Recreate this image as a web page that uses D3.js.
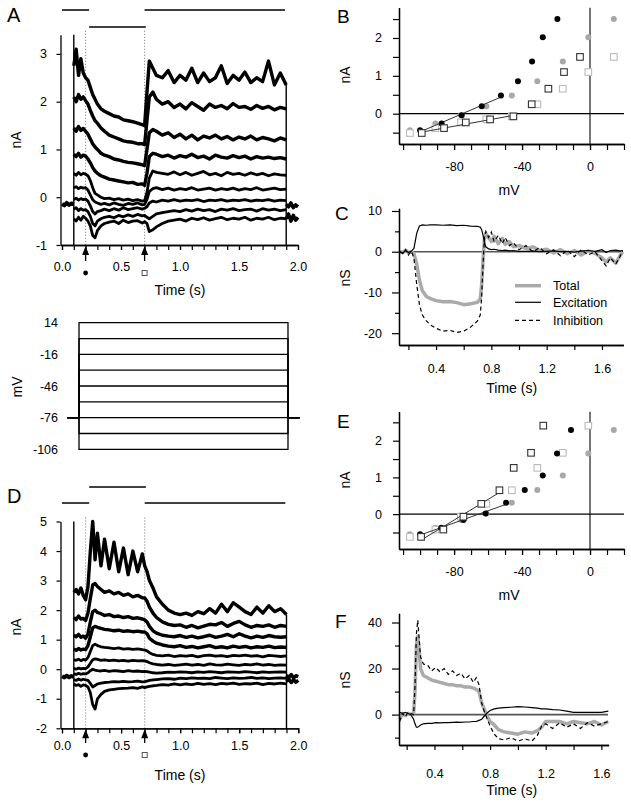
<!DOCTYPE html>
<html>
<head>
<meta charset="utf-8">
<script src="https://cdn.jsdelivr.net/npm/d3@7"></script>
<style>
body { margin: 0; background: #fff; }
</style>
</head>
<body>
<svg id="fig" width="631" height="806"></svg>
<script>
// ---- data ----
const cmdVoltages = [-106, -91, -76, -61, -46, -31, -16, -1, 14];

const traceTimes = [0.10,0.12,0.14,0.16,0.18,0.20,0.22,0.24,0.26,0.28,0.30,0.33,0.36,0.40,0.44,0.48,0.52,0.56,0.60,0.64,0.68,0.70,0.72,0.74,0.77,0.80,0.85,0.90,0.95,1.00,1.05,1.10,1.15,1.20,1.25,1.30,1.35,1.40,1.45,1.50,1.55,1.60,1.65,1.70,1.75,1.80,1.85,1.90];

// panel A currents (nA), one list per holding step, -106 mV first
const tracesA = [
  [-0.45,-0.5,-0.42,-0.48,-0.4,-0.44, -0.5,-0.6,-0.8,-0.85,-0.7, -0.6,-0.55,-0.52,-0.5,-0.55, -0.48,-0.53,-0.5,-0.49,-0.54, -0.51,-0.55,-0.72,-0.68,-0.62, -0.55,-0.5,-0.48,-0.46,-0.5, -0.44,-0.47,-0.43,-0.48,-0.45, -0.42,-0.47,-0.44,-0.46,-0.42, -0.48,-0.44,-0.46,-0.42,-0.47, -0.44,-0.45],
  [-0.25,-0.22,-0.28,-0.24,-0.27,-0.26, -0.3,-0.4,-0.55,-0.6,-0.5, -0.45,-0.42,-0.4,-0.43,-0.38, -0.41,-0.37,-0.4,-0.36,-0.39, -0.38,-0.42,-0.45,-0.4,-0.35, -0.32,-0.3,-0.28,-0.3,-0.26, -0.29,-0.25,-0.28,-0.26,-0.3, -0.25,-0.27,-0.24,-0.28,-0.26, -0.25,-0.29,-0.24,-0.27,-0.25, -0.28,-0.26],
  [-0.05,-0.02,-0.06,-0.03,-0.05,-0.04, -0.08,-0.18,-0.3,-0.35,-0.3, -0.28,-0.25,-0.28,-0.24,-0.27, -0.22,-0.26,-0.24,-0.22,-0.25, -0.23,-0.2,-0.12,-0.08,-0.1, -0.06,-0.08,-0.05,-0.08,-0.06, -0.07,-0.05,-0.09,-0.06,-0.07, -0.05,-0.08,-0.06,-0.07,-0.05, -0.08,-0.06,-0.07,-0.05,-0.08, -0.06,-0.07],
  [0.2,0.22,0.18,0.21,0.19,0.2, 0.15,0.05,-0.05,-0.1,-0.12, -0.15,-0.13,-0.16,-0.12,-0.15, -0.17,-0.13,-0.15,-0.12,-0.16, -0.15,-0.05,0.12,0.18,0.2, 0.16,0.19,0.15,0.18,0.16, 0.2,0.15,0.17,0.19,0.15, 0.18,0.16,0.19,0.15,0.18, 0.16,0.2,0.15,0.17,0.19, 0.16,0.17],
  [0.5,0.46,0.52,0.47,0.5,0.48, 0.45,0.35,0.2,0.08,0.05, 0.0,-0.03,-0.02,-0.05,-0.03, -0.06,-0.04,-0.07,-0.05,-0.08, -0.07,0.1,0.4,0.55,0.52, 0.5,0.48,0.53,0.47,0.52, 0.46,0.5,0.54,0.47,0.5, 0.45,0.52,0.48,0.5,0.46, 0.51,0.47,0.5,0.45,0.49, 0.47,0.46],
  [0.9,0.85,0.92,0.84,0.88,0.86, 0.8,0.72,0.62,0.55,0.5, 0.45,0.42,0.38,0.36,0.34, 0.32,0.3,0.31,0.27,0.28, 0.25,0.5,0.85,0.92,0.9, 0.85,0.88,0.82,0.87,0.84, 0.9,0.83,0.86,0.8,0.88, 0.84,0.82,0.87,0.83,0.86, 0.8,0.85,0.82,0.84,0.81, 0.83,0.8],
  [1.45,1.38,1.48,1.4,1.44,1.38, 1.32,1.22,1.12,1.05,1.0, 0.92,0.88,0.85,0.8,0.78, 0.75,0.73,0.72,0.7,0.68, 0.66,1.0,1.35,1.42,1.38, 1.3,1.35,1.25,1.32,1.22, 1.3,1.2,1.28,1.24,1.3, 1.22,1.27,1.2,1.26,1.22, 1.28,1.2,1.25,1.22,1.18, 1.24,1.2],
  [2.1,2.0,2.15,2.05,2.1,2.02, 1.95,1.82,1.7,1.6,1.55, 1.45,1.38,1.3,1.26,1.22, 1.18,1.16,1.15,1.12,1.12, 1.1,1.6,2.1,2.2,2.05, 1.95,2.0,1.88,1.95,1.85, 1.98,1.9,1.82,1.95,1.88, 1.92,1.85,1.96,1.88,1.9, 1.84,1.92,1.86,1.9,1.83, 1.88,1.85],
  [2.75,3.1,2.55,2.9,2.6,2.5, 2.45,2.3,2.15,2.05,1.95, 1.85,1.8,1.75,1.7,1.68, 1.62,1.6,1.58,1.55,1.52, 1.5,2.2,2.85,2.7,2.55, 2.5,2.65,2.4,2.55,2.45, 2.7,2.4,2.6,2.42,2.5, 2.75,2.38,2.55,2.45,2.62, 2.4,2.5,2.42,2.85,2.35, 2.6,2.35]
];

// panel D currents (nA)
const tracesD = [
  [-0.5,-0.55,-0.52,-0.58,-0.53,-0.55, -0.6,-0.8,-1.2,-1.35,-1.0, -0.85,-0.75,-0.7,-0.68,-0.66, -0.65,-0.64,-0.62,-0.65,-0.6, -0.62,-0.6,-0.58,-0.56,-0.55, -0.52,-0.54,-0.5,-0.53,-0.5, -0.52,-0.48,-0.51,-0.49,-0.52, -0.48,-0.5,-0.47,-0.51,-0.49, -0.5,-0.47,-0.52,-0.48,-0.5, -0.47,-0.5],
  [-0.35,-0.38,-0.33,-0.37,-0.34,-0.36, -0.38,-0.48,-0.6,-0.55,-0.5, -0.47,-0.45,-0.44,-0.42,-0.43, -0.41,-0.43,-0.42,-0.4,-0.43, -0.42,-0.4,-0.38,-0.36,-0.35, -0.33,-0.32,-0.34,-0.3,-0.32, -0.29,-0.31,-0.3,-0.32,-0.28, -0.3,-0.32,-0.29,-0.31,-0.3, -0.28,-0.31,-0.29,-0.32,-0.3, -0.29,-0.31],
  [-0.15,-0.18,-0.14,-0.17,-0.15,-0.16, -0.12,-0.05,0.0,-0.03,-0.05, -0.06,-0.04,-0.07,-0.05,-0.06, -0.08,-0.05,-0.07,-0.06,-0.08, -0.07,-0.08,-0.1,-0.12,-0.13, -0.12,-0.1,-0.11,-0.09,-0.1, -0.12,-0.09,-0.11,-0.08,-0.1, -0.12,-0.09,-0.1,-0.11,-0.08, -0.1,-0.12,-0.09,-0.11,-0.1, -0.09,-0.1],
  [0.03,0.0,0.04,0.01,0.03,0.02, 0.08,0.2,0.32,0.35,0.33, 0.3,0.32,0.29,0.31,0.28, 0.3,0.27,0.3,0.28,0.29, 0.28,0.26,0.22,0.18,0.16, 0.14,0.16,0.13,0.15,0.17, 0.14,0.16,0.13,0.18,0.15, 0.14,0.17,0.15,0.13,0.16, 0.15,0.18,0.14,0.16,0.13, 0.15,0.14],
  [0.32,0.3,0.34,0.29,0.33,0.31, 0.4,0.6,0.8,0.85,0.8, 0.76,0.74,0.72,0.7,0.72, 0.68,0.7,0.67,0.69,0.66, 0.65,0.62,0.56,0.5,0.47, 0.45,0.48,0.43,0.46,0.44, 0.47,0.42,0.46,0.48,0.44, 0.46,0.43,0.47,0.45,0.48, 0.44,0.46,0.42,0.47,0.45, 0.43,0.45],
  [0.68,0.64,0.7,0.65,0.68,0.66, 0.8,1.1,1.4,1.45,1.42, 1.38,1.35,1.33,1.3,1.32, 1.28,1.3,1.27,1.29,1.26, 1.26,1.2,1.05,0.95,0.88, 0.82,0.78,0.76,0.8,0.74, 0.77,0.72,0.76,0.8,0.73, 0.76,0.72,0.78,0.74,0.77, 0.72,0.76,0.74,0.78,0.73, 0.75,0.74],
  [1.15,1.1,1.18,1.08,1.12,1.05, 1.2,1.6,1.95,2.0,1.92, 1.88,1.82,1.85,1.78,1.8, 1.75,1.78,1.72,1.74,1.7, 1.67,1.6,1.45,1.3,1.22, 1.15,1.12,1.1,1.14,1.08, 1.12,1.06,1.1,1.15,1.08, 1.12,1.18,1.1,1.2,1.12, 1.06,1.12,1.08,1.14,1.1, 1.08,1.1],
  [1.75,1.68,1.8,1.7,1.72,1.65, 1.9,2.4,2.85,2.9,2.8, 2.7,2.6,2.65,2.55,2.6, 2.5,2.55,2.45,2.5,2.42, 2.41,2.3,2.1,1.9,1.75, 1.6,1.52,1.48,1.5,1.42, 1.48,1.4,1.46,1.52,1.5, 1.58,1.45,1.55,1.62,1.5, 1.42,1.48,1.45,1.5,1.42, 1.48,1.45],
  [2.6,2.7,2.55,2.75,2.5,2.35, 2.8,4.0,5.0,3.7,4.6, 3.5,4.4,3.4,4.3,3.3, 4.1,3.2,4.0,3.3,3.9, 3.5,3.3,3.0,2.75,2.45, 2.2,2.0,1.9,1.85,1.9, 1.82,1.95,1.88,2.05,1.9, 2.2,1.95,2.25,2.1,1.95, 1.85,2.1,1.9,2.15,1.95, 2.05,1.85]
];

const baseTimesPre = [0, 0.02, 0.04, 0.06, 0.08, 0.10];
const baseTimesPost = [1.90, 1.92, 1.94, 1.96, 1.98, 2.00];
const basePreA = [-0.14, -0.17, -0.12, -0.16, -0.13, -0.15];
const basePostA = [[-0.15, -0.2, -0.12, -0.22, -0.16, -0.2], [-0.45, -0.35, -0.5, -0.38, -0.48, -0.42]];
const basePreD = [-0.24, -0.28, -0.22, -0.27, -0.23, -0.26];
const basePostD = [[-0.2, -0.28, -0.18, -0.3, -0.22, -0.25], [-0.42, -0.34, -0.45, -0.36, -0.44, -0.38]];

// step transients: [time, low nA, high nA]
const transientsA = [[0.1, -1, 3.4], [1.9, -1, 2.4]];
const transientsD = [[0.1, -2, 5], [1.9, -2, 1.85]];

// stimulus bars: [start s, end s, row]
const stimBars = [[0, 0.23, 0], [0.23, 0.71, 1], [0.7, 1.89, 0]];
const markTimes = [0.2, 0.7];

// I-V points (B and E): corrected voltage and current at 0.2 s (dots) and 0.7 s (squares)
const bDotV = [-100, -87.3, -75.5, -63.7, -52.4, -42.4, -34.1, -27.8, -19.2];
const bDotI = [-0.44, -0.26, -0.04, 0.20, 0.48, 0.86, 1.38, 2.02, 2.50];
const bSqV = [-99, -85.9, -73.1, -58.8, -45.1, -34.3, -24.5, -15.3, -5.9];
const bSqI = [-0.51, -0.38, -0.23, -0.15, -0.07, 0.25, 0.66, 1.10, 1.50];
const eDotV = [-100, -87.5, -74.5, -61.4, -49.4, -38.4, -27.8, -19.4, -11.2];
const eDotI = [-0.55, -0.37, -0.16, 0.02, 0.31, 0.66, 1.05, 1.65, 2.29];
const eSqV = [-99.4, -86.3, -74.5, -64, -53.3, -44.9, -34.7, -27.5, -20];
const eSqI = [-0.62, -0.42, -0.07, 0.28, 0.65, 1.26, 1.67, 2.41, 3.5];

// conductances (nS)
const cTimes = [0.14,0.16,0.18,0.20,0.22,0.24,0.26,0.28,0.30,0.33,0.36,0.40,0.45,0.50,0.55,0.60,0.65,0.70,0.72,0.73,0.74,0.75,0.76,0.78,0.80,0.82,0.85,0.88,0.90,0.93,0.96,1.00,1.05,1.10,1.15,1.20,1.25,1.30,1.35,1.40,1.45,1.50,1.55,1.60,1.63,1.66,1.70,1.73,1.75];
const cTotal = [0,-0.2,0.4,-0.3,0,-0.5,-3,-7,-9.5, -11,-11.5,-12,-12.3,-12.2, -12.5,-13,-12.8,-12.4,-11.5, -8,-2,3,4.5,3.5, 2.5,3.8,2,3.3,1.8, 2.5,1.2,1.5,0.8,1.2, 0.3,0.6,-0.3,0.5,-0.5, 0.3,-0.8,0.2,-0.4,-1.5, -2.5,-1.5,-2.8,-1,0];
const cExc = [0,-0.3,0.3,-0.2,0.1,0.8,4.5,6.3,6.6, 6.5,6.6,6.6,6.5,6.6, 6.4,6.5,6.3,6.2,6.0, 5.4,4.0,2.2,1.2,0.7, 0.5,0.6,0.4,0.3,0.4, 0.2,0.3,0.1,0.1,0.2, 0,0.1,0.2,0,0.1, -0.1,0.2,0.3,0.1,0.5, -0.2,0.3,0.4,0.2,0.3];
const cInh = [0,-0.5,0.5,-0.8,0.2,-1.5,-8,-13,-15.5, -17,-18,-18.8,-19.5,-19.3, -19.8,-19.5,-18.5,-17,-15.5, -11,-3,3.5,5,3.5, 4.8,2.5,4,2,3.5, 1.5,2.2,0.5,1.5,0, 1,-0.5,0.5,-1,0.4, -1.2,0.5,-0.8,0,-2.2, -3.5,-1.5,-3,-1.2,0.3];

const fTimes = [0.15,0.17,0.19,0.21,0.23,0.25,0.26,0.27,0.28,0.29,0.30,0.32,0.35,0.38,0.41,0.44,0.47,0.50,0.53,0.56,0.59,0.62,0.65,0.68,0.70,0.72,0.74,0.76,0.78,0.80,0.83,0.86,0.90,0.95,1.00,1.05,1.10,1.14,1.17,1.20,1.25,1.30,1.35,1.40,1.45,1.50,1.55,1.60,1.65];
const fTotal = [-2,0.5,-0.5,0.5,0,0.5, 10,30,34,28,20, 17,16,15,14.5,14, 13.5,13,13,12.5,12.5, 12,12,11.5,11,10, 5,2,-1,-3,-4.5, -6.5,-7.5,-8,-8.5,-7.5, -8,-7,-5.5,-3,-3, -3,-4,-3,-3.5,-4, -3,-4.5,-3];
const fExc = [1,0.5,1,0.5,0,-2, -4,-5.5,-5.5,-5,-4.5, -4,-3.8,-3.8,-3.5,-3.6, -3.5,-3.5,-3.4,-3.3,-3.4, -3.2,-3.2,-3,-3,-2.5, -2,-0.5,0.8,1.8,2.5, 2.8,3,3.2,3.5,3.3, 3,2.8,2.5,2.5,2.2, 2,1.5,1,1,1, 1,1,1.5];
const fInh = [-3,0.5,-1,1,0.5,0, 12,35,41,33,25, 22,21.5,19,20.5,18.5, 20,17.5,19,17,18, 15.5,17,14,16,13, 5,1,-2,-5,-8.5, -10.5,-11,-10,-11.5,-10.5, -11.5,-9,-5,-4,-6, -3.5,-5.5,-4,-6,-3.5, -5,-4,-3];

const legendItems = ["Total", "Excitation", "Inhibition"];

// ---- drawing ----
const FONT = '"Liberation Sans", Arial, Helvetica, sans-serif';
const svg = d3.select("#fig");

function styleAxis(g) {
  g.selectAll("path.domain").attr("stroke", "#000").attr("stroke-width", 1.3);
  g.selectAll(".tick line").attr("stroke", "#000").attr("stroke-width", 1.2);
  g.selectAll("text").attr("font-family", FONT).attr("font-size", 12.5).attr("fill", "#000");
}

// minor (unlabelled) ticks plus labelled ticks on one axis
function axis(gen, scale, pos, minor, major, size, majorSize, pad, fmt) {
  const horiz = gen === d3.axisBottom;
  const tr = horiz ? `translate(0,${pos})` : `translate(${pos},0)`;
  if (minor) {
    const g1 = svg.append("g").attr("transform", tr)
      .call(gen(scale).tickValues(minor).tickFormat("").tickSize(size).tickSizeOuter(0));
    styleAxis(g1);
  }
  const g2 = svg.append("g").attr("transform", tr)
    .call(gen(scale).tickValues(major).tickFormat(fmt || (d => String(d)))
      .tickSize(majorSize).tickPadding(pad).tickSizeOuter(0));
  styleAxis(g2);
}

function label(x, y, txt, size, opts) {
  opts = opts || {};
  const t = svg.append("text").attr("x", x).attr("y", y).text(txt)
    .attr("font-family", FONT).attr("font-size", size).attr("fill", "#000")
    .attr("text-anchor", opts.anchor || "start");
  if (opts.rotate) t.attr("transform", `rotate(-90,${x},${y})`);
  return t;
}

function tracePanel(traces, basePre, basePost, transients, x, y, barY, markY, axisY, yTicks, yMin, yMax, tickPad) {
  const line = d3.line().x((d, i) => x(traceTimes[i])).y(d => y(d));
  const bline = d3.line().x((d, i) => x(baseTimesPre[i])).y(d => y(d));
  const pline = d3.line().x((d, i) => x(baseTimesPost[i])).y(d => y(d));

  // stimulus bars
  svg.append("g").selectAll("line").data(stimBars).join("line")
    .attr("x1", d => x(d[0])).attr("x2", d => x(d[1]))
    .attr("y1", d => barY[d[2]]).attr("y2", d => barY[d[2]])
    .attr("stroke", "#000").attr("stroke-width", 1.5);

  // dotted marker lines
  svg.append("g").selectAll("line").data(markTimes).join("line")
    .attr("x1", d => x(d)).attr("x2", d => x(d))
    .attr("y1", y(yMax) - 4).attr("y2", y(yMin))
    .attr("stroke", "#666").attr("stroke-width", 0.9).attr("stroke-dasharray", "1,2");

  const g = svg.append("g").attr("fill", "none").attr("stroke", "#000")
    .attr("stroke-linejoin", "round");
  g.selectAll("path.tr").data(traces).join("path").attr("class", "tr")
    .attr("d", line).attr("stroke-width", (d, i) => i > 4 ? 3.4 : 2.8);
  g.append("path").attr("d", bline(basePre)).attr("stroke-width", 4);
  g.selectAll("path.post").data(basePost).join("path").attr("class", "post")
    .attr("d", pline).attr("stroke-width", 3.5);
  g.selectAll("line").data(transients).join("line")
    .attr("x1", d => x(d[0])).attr("x2", d => x(d[0]))
    .attr("y1", d => y(d[1])).attr("y2", d => y(d[2])).attr("stroke-width", 1.4);

  // axes
  axis(d3.axisLeft, y, x.range()[0], null, yTicks, 0, 4, 9.5);
  axis(d3.axisBottom, x, axisY, d3.range(0, 2.001, 0.1).map(v => +v.toFixed(1)),
    [0, 0.5, 1, 1.5, 2], 5, 5, tickPad, d3.format(".1f"));

  // arrows under the axis
  markTimes.forEach((t, i) => {
    const cx = x(t);
    svg.append("line").attr("x1", cx).attr("x2", cx).attr("y1", markY - 2).attr("y2", axisY + 8)
      .attr("stroke", "#000").attr("stroke-width", 1.3);
    svg.append("path").attr("d", `M${cx},${axisY + 1} L${cx - 3.5},${axisY + 10} L${cx + 3.5},${axisY + 10} Z`)
      .attr("fill", "#000");
    if (i === 0) {
      svg.append("circle").attr("cx", cx).attr("cy", markY + 10).attr("r", 2.4).attr("fill", "#000");
    } else {
      svg.append("rect").attr("x", cx - 2.5).attr("y", markY + 7.5).attr("width", 5).attr("height", 5)
        .attr("fill", "#fff").attr("stroke", "#555").attr("stroke-width", 1);
    }
  });
}

// Panel A
const xA = d3.scaleLinear().domain([-0.0127, 2]).range([60.5, 298]);
const yA = d3.scaleLinear().domain([-1, 3.4]).range([245, 34.8]);
tracePanel(tracesA, basePreA, basePostA, transientsA, xA, yA, [10, 27], 263, 245, [-1, 0, 1, 2, 3], -1, 3.4, 12.4);
label(7, 22, "A", 20);
label(21, 140, "nA", 14, {anchor: "middle", rotate: true});
label(180, 295, "Time (s)", 14, {anchor: "middle"});

// Panel D
const xD = d3.scaleLinear().domain([-0.0127, 2]).range([60.5, 298.3]);
const yD = d3.scaleLinear().domain([-2, 5]).range([728.3, 521.5]);
tracePanel(tracesD, basePreD, basePostD, transientsD, xD, yD, [503, 487], 745, 728.3, [-2, -1, 0, 1, 2, 3, 4, 5], -2, 5, 7.4);
label(7, 503, "D", 20);
label(21, 627, "nA", 14, {anchor: "middle", rotate: true});
label(180, 780, "Time (s)", 14, {anchor: "middle"});

// Voltage protocol
const xM = d3.scaleLinear().domain([0, 2]).range([67.4, 299.6]);
const yM = d3.scaleLinear().domain([-106, 14]).range([449.3, 322.7]);
const stepLine = v => d3.line()([[xM(0), yM(-76)], [xM(0.1), yM(-76)], [xM(0.1), yM(v)],
  [xM(1.9), yM(v)], [xM(1.9), yM(-76)], [xM(2), yM(-76)]]);
svg.append("g").selectAll("path").data(cmdVoltages).join("path")
  .attr("d", stepLine).attr("fill", "none").attr("stroke", "#000").attr("stroke-width", 1.3);
[14, -16, -46, -76, -106].forEach(v => label(58, yM(v) + 4.5, String(v), 12.5, {anchor: "end"}));
label(22, 387, "mV", 14, {anchor: "middle", rotate: true});

// I-V panels
const xIV = d3.scaleLinear().domain([-112.4, 20]).range([399, 624]);

function fitLine(vs, is) {
  const xs = vs.slice(0, 5), ys = is.slice(0, 5);
  const mx = d3.mean(xs), my = d3.mean(ys);
  const b = d3.sum(xs, (v, i) => (v - mx) * (ys[i] - my)) / d3.sum(xs, v => (v - mx) * (v - mx));
  return [[xs[0], my + b * (xs[0] - mx)], [xs[4], my + b * (xs[4] - mx)]];
}

function ivPanel(y, dotV, dotI, sqV, sqI, letterY, letter, mvY, naY) {
  const [yb, yt] = y.range();
  // zero lines
  svg.append("line").attr("x1", xIV(0)).attr("x2", xIV(0)).attr("y1", yt).attr("y2", yb)
    .attr("stroke", "#555").attr("stroke-width", 1.6);
  svg.append("line").attr("x1", 399).attr("x2", 624).attr("y1", y(0)).attr("y2", y(0))
    .attr("stroke", "#000").attr("stroke-width", 1.3);
  const inRange = v => v <= y.domain()[1];
  // command-voltage (uncorrected) points, light
  svg.append("g").selectAll("circle").data(dotI).join("circle")
    .attr("cx", (d, i) => xIV(cmdVoltages[i])).attr("cy", d => y(d)).attr("r", 3).attr("fill", "#a8a8a8");
  svg.append("g").selectAll("rect").data(sqI.filter(inRange)).join("rect")
    .attr("x", (d, i) => xIV(cmdVoltages[i]) - 3.3).attr("y", d => y(d) - 3.3)
    .attr("width", 6.6).attr("height", 6.6).attr("fill", "#fff").attr("stroke", "#bbb").attr("stroke-width", 1.1);
  // fit lines
  const ln = d3.line().x(d => xIV(d[0])).y(d => y(d[1]));
  [fitLine(dotV, dotI), fitLine(sqV, sqI)].forEach(f =>
    svg.append("path").attr("d", ln(f)).attr("stroke", "#333").attr("stroke-width", 1).attr("fill", "none"));
  // corrected points, dark
  svg.append("g").selectAll("circle").data(dotI).join("circle")
    .attr("cx", (d, i) => xIV(dotV[i])).attr("cy", d => y(d)).attr("r", 3).attr("fill", "#000");
  svg.append("g").selectAll("rect").data(sqI.filter(inRange)).join("rect")
    .attr("x", (d, i) => xIV(sqV[i]) - 3.3).attr("y", d => y(d) - 3.3)
    .attr("width", 6.6).attr("height", 6.6).attr("fill", "#fff").attr("stroke", "#333").attr("stroke-width", 1.1);
  // axes
  axis(d3.axisLeft, y, 399, [-0.5, 0.5, 1.5, 2.5], [0, 1, 2], 6, 6, 11);
  axis(d3.axisBottom, xIV, yb, d3.range(-110, 21, 10), [-80, -40, 0], 6, 6, 12.4);
  label(337, letterY, letter, 19);
  label(509, mvY, "mV", 14, {anchor: "middle"});
  label(350, naY, "nA", 14, {anchor: "middle", rotate: true});
}

const yB = d3.scaleLinear().domain([-0.8, 2.8]).range([144, 7.7]);
ivPanel(yB, bDotV, bDotI, bSqV, bSqI, 23, "B", 195, 75);
const yE = d3.scaleLinear().domain([-0.95, 2.79]).range([549, 411.7]);
ivPanel(yE, eDotV, eDotI, eSqV, eSqI, 428, "E", 600, 480);

// Conductance panels
function gPanel(x, y, times, tot, exc, inh, minorY, majorY, xEnd, pad, letterY, letter, timeY, nsY) {
  svg.append("line").attr("x1", 399).attr("x2", xEnd).attr("y1", y(0)).attr("y2", y(0))
    .attr("stroke", "#555").attr("stroke-width", 1.6);
  const ln = d3.line().x((d, i) => x(times[i])).y(d => y(d));
  svg.append("path").attr("d", ln(tot)).attr("fill", "none").attr("stroke", "#aaa")
    .attr("stroke-width", 3.5).attr("stroke-linejoin", "round");
  svg.append("path").attr("d", ln(inh)).attr("fill", "none").attr("stroke", "#000")
    .attr("stroke-width", 1.2).attr("stroke-dasharray", "4,3");
  svg.append("path").attr("d", ln(exc)).attr("fill", "none").attr("stroke", "#000")
    .attr("stroke-width", 1.2);
  axis(d3.axisLeft, y, 399, minorY, majorY, 4, 7, 10);
  axis(d3.axisBottom, x, y.range()[0], [0.2, 0.6, 1.0, 1.4], [0.4, 0.8, 1.2, 1.6], 5, 5, pad, d3.format(".1f"));
  label(335, letterY, letter, 19);
  label(511.7, timeY, "Time (s)", 14, {anchor: "middle"});
  label(350, nsY, "nS", 14, {anchor: "middle", rotate: true});
}

const xC = d3.scaleLinear().domain([0.132, 1.755]).range([399, 623.4]);
const yC = d3.scaleLinear().domain([-22.9, 10.66]).range([345, 208.3]);
gPanel(xC, yC, cTimes, cTotal, cExc, cInh, [5, -5, -15], [10, 0, -10, -20], 623, 14, 220, "C", 393, 278);

// legend for C
const legY = [285.7, 302.3, 320.3];
legendItems.forEach((name, i) => {
  const l = svg.append("line").attr("x1", 515).attr("x2", 541).attr("y1", legY[i]).attr("y2", legY[i]);
  if (i === 0) l.attr("stroke", "#aaa").attr("stroke-width", 3.5);
  else l.attr("stroke", "#000").attr("stroke-width", 1.2);
  if (i === 2) l.attr("stroke-dasharray", "4,3");
  label(553, legY[i] + 4.5, name, 12.5);
});

const xF = d3.scaleLinear().domain([0.145, 1.652]).range([399, 608.6]);
const yF = d3.scaleLinear().domain([-13.2, 44]).range([745, 613.3]);
gPanel(xF, yF, fTimes, fTotal, fExc, fInh, [30, 10, -10], [40, 20, 0], 608, 19, 628, "F", 795, 680);
</script>
</body>
</html>
